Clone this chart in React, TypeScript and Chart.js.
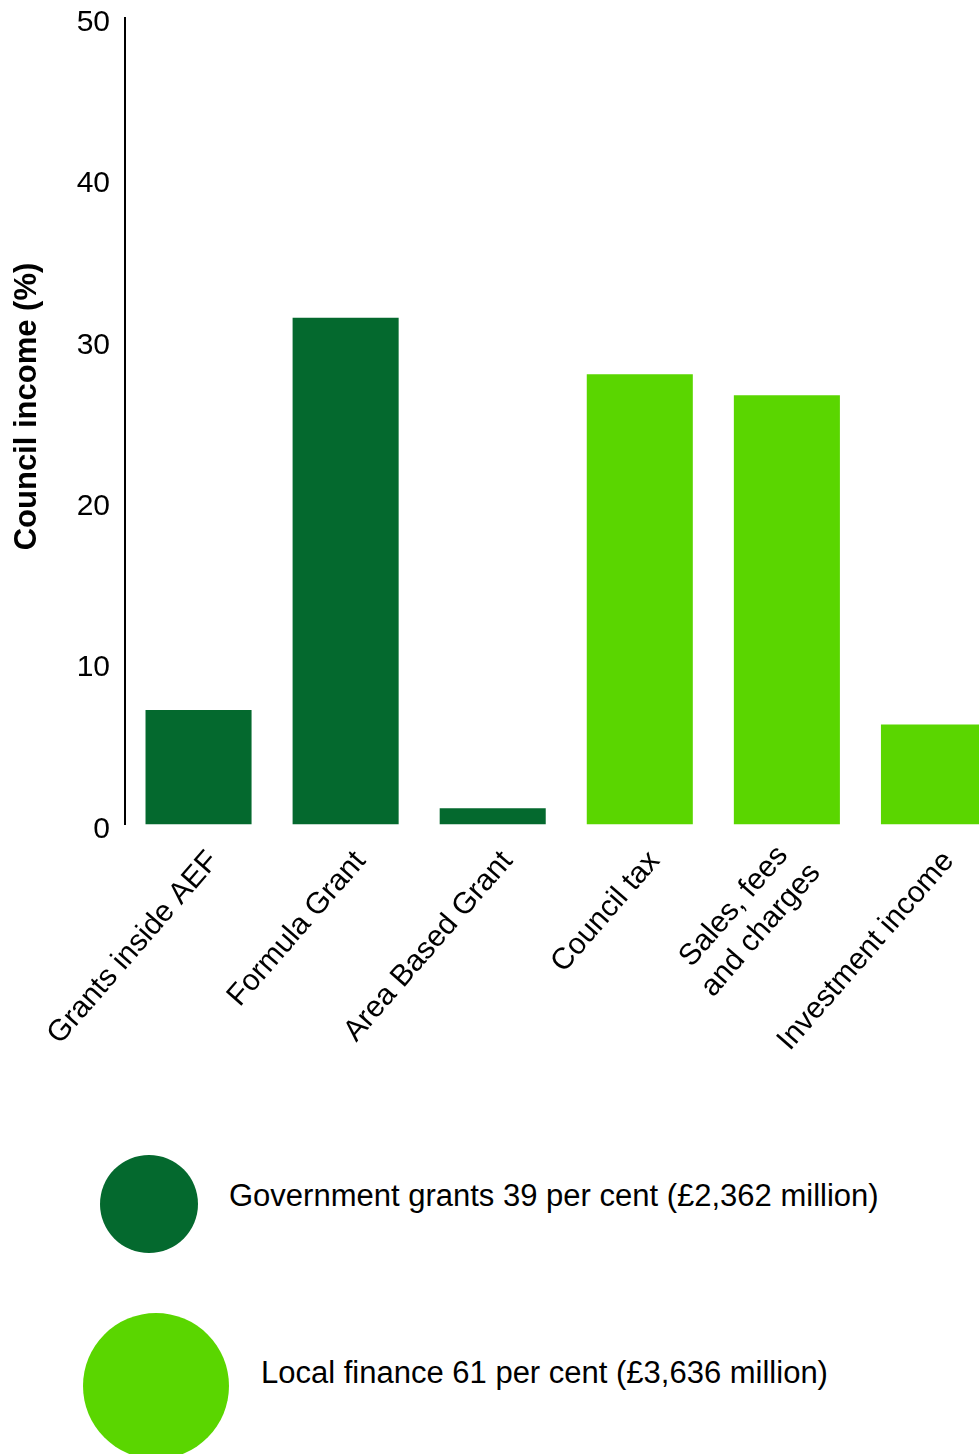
import React, { useEffect, useRef } from 'react';
import { Chart, registerables } from 'chart.js';

Chart.register(...registerables);

// ---- data ----
const categories: (string | string[])[] = [
  'Grants inside AEF',
  'Formula Grant',
  'Area Based Grant',
  'Council tax',
  ['Sales, fees', 'and charges'],
  'Investment income',
];
const values = [7.1, 31.4, 1.0, 27.9, 26.6, 6.2];
const barGroup = [0, 0, 0, 1, 1, 1];
const groupColors = ['#04692E', '#5AD600'];
const groupLabels = [
  'Government grants 39 per cent (£2,362 million)',
  'Local finance 61 per cent (£3,636 million)',
];
const yTitle = 'Council income (%)';
const yMin = 0;
const yMax = 50;
const yStep = 10;

// ---- layout ----
const FONT = "'Liberation Sans', Arial, Helvetica, sans-serif";
const CANVAS_W = 1010;
const CANVAS_H = 1100;
const PLOT_LEFT = 125;
const PLOT_TOP = 17.5;
const PLOT_BOTTOM = 824.5;
const PLOT_RIGHT = 1007.5;
const LABEL_ANGLE = (49 * Math.PI) / 180;

const labelPlugin = {
  id: 'customLabels',
  afterDraw(chart: any) {
    const ctx = chart.ctx as CanvasRenderingContext2D;
    const xs = chart.scales.x;
    const area = chart.chartArea;
    ctx.save();
    ctx.fillStyle = '#000';
    ctx.font = `30px ${FONT}`;
    ctx.textBaseline = 'alphabetic';
    ctx.textAlign = 'center';
    const lh = 36;
    categories.forEach((cat, i) => {
      const lines = Array.isArray(cat) ? cat : [cat];
      const widths = lines.map((l) => ctx.measureText(l).width);
      const maxW = Math.max(...widths);
      const px = xs.getPixelForTick(i);
      ctx.save();
      ctx.translate(px + 21, area.bottom + 37);
      ctx.rotate(-LABEL_ANGLE);
      const y0 = (-(lines.length - 1) * lh) / 2;
      lines.forEach((l, j) => {
        ctx.fillText(l, -maxW / 2, y0 + j * lh);
      });
      ctx.restore();
    });
    // y axis title
    ctx.font = `bold 31px ${FONT}`;
    ctx.translate(36, (area.top + area.bottom) / 2 - 14.5);
    ctx.rotate(-Math.PI / 2);
    ctx.fillText(yTitle, 0, 0);
    ctx.restore();
  },
};

export default function App() {
  const ref = useRef<HTMLCanvasElement | null>(null);

  useEffect(() => {
    if (!ref.current) return;
    const chart = new Chart(ref.current, {
      type: 'bar',
      data: {
        labels: categories as any,
        datasets: [
          {
            data: values,
            backgroundColor: values.map((_, i) => groupColors[barGroup[i]]),
            borderWidth: 0,
            barPercentage: 0.721,
            categoryPercentage: 1,
          },
        ],
      },
      options: {
        responsive: false,
        animation: false,
        devicePixelRatio: 1,
        layout: {
          padding: { top: PLOT_TOP, right: CANVAS_W - PLOT_RIGHT, left: 0, bottom: 0 },
        },
        plugins: {
          legend: { display: false },
          tooltip: { enabled: false },
          title: { display: false },
        },
        scales: {
          x: {
            ticks: { display: false },
            grid: { display: false, drawTicks: false },
            border: { display: false },
            afterFit: (s: any) => {
              s.height = CANVAS_H - PLOT_BOTTOM;
              s.paddingLeft = 0;
              s.paddingRight = 0;
            },
          },
          y: {
            min: yMin,
            max: yMax,
            ticks: {
              stepSize: yStep,
              color: '#000',
              font: { family: FONT, size: 30 },
              padding: 15,
              labelOffset: 5,
            },
            grid: { display: false, drawTicks: false },
            border: { display: true, color: '#000', width: 2 },
            afterFit: (s: any) => {
              s.width = PLOT_LEFT;
              s.paddingTop = 0;
              s.paddingBottom = 0;
            },
          },
        },
      } as any,
      plugins: [labelPlugin],
    });
    return () => chart.destroy();
  }, []);

  const textStyle: React.CSSProperties = {
    position: 'absolute',
    fontFamily: FONT,
    fontSize: 31,
    lineHeight: '31px',
    whiteSpace: 'nowrap',
    color: '#000',
  };

  return (
    <div
      style={{
        position: 'absolute',
        left: 0,
        top: 0,
        width: 979,
        height: 1454,
        overflow: 'hidden',
        background: '#fff',
      }}
    >
      <canvas
        ref={ref}
        width={CANVAS_W}
        height={CANVAS_H}
        style={{ display: 'block', width: CANVAS_W, height: CANVAS_H }}
      />
      <div
        style={{
          position: 'absolute',
          left: 99.5,
          top: 1155,
          width: 98,
          height: 98,
          borderRadius: '50%',
          background: groupColors[0],
        }}
      />
      <div style={{ ...textStyle, left: 229, top: 1179.75 }}>{groupLabels[0]}</div>
      <div
        style={{
          position: 'absolute',
          left: 83,
          top: 1312.5,
          width: 146,
          height: 146,
          borderRadius: '50%',
          background: groupColors[1],
        }}
      />
      <div style={{ ...textStyle, left: 261, top: 1357 }}>{groupLabels[1]}</div>
    </div>
  );
}
